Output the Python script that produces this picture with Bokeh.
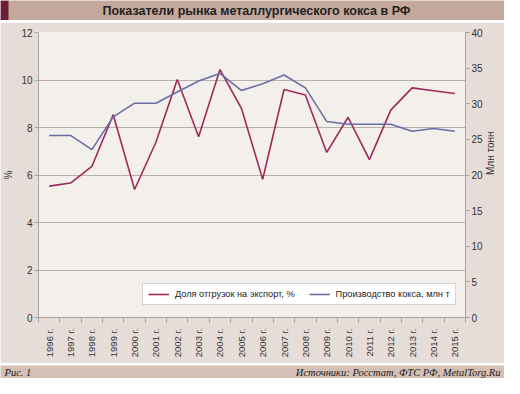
from math import pi
from bokeh.plotting import figure
from bokeh.models import (Range1d, LinearAxis, FixedTicker, Legend, LegendItem,
                          Label, BoxAnnotation)
from bokeh.layouts import column, row
from bokeh.embed import file_html
from bokeh.resources import INLINE

# ---- data ----
years = list(range(1996, 2016))
year_labels = [f"{y} г." for y in years]
export_share = [5.53, 5.66, 6.36, 8.54, 5.39, 7.38, 10.02, 7.61, 10.44, 8.82,
                5.82, 9.60, 9.37, 6.95, 8.43, 6.65, 8.73, 9.67, 9.55, 9.43]
coke_output = [25.55, 25.55, 23.57, 28.15, 30.08, 30.08, 31.65, 33.2, 34.25, 31.87,
               32.8, 34.03, 32.23, 27.52, 27.12, 27.12, 27.12, 26.13, 26.53, 26.13]
left_ticks = [0, 2, 4, 6, 8, 10, 12]
right_ticks = [0, 5, 10, 15, 20, 25, 30, 35, 40]
series_names = ["Доля отгрузок на экспорт, %", "Производство кокса, млн т"]
title_text = "Показатели рынка металлургического кокса в РФ"
fig_text = "Рис. 1"
source_text = "Источники: Росстат, ФТС РФ, MetalTorg.Ru"

RED = "#9e2a5c"
BLUE = "#6a6ea8"
AXIS = "#a8a4a0"
GRID = "#b6b1ac"
TXT = "#333333"
FONT = "Liberation Sans"
W = 504

# ---- header ----
hdr = figure(width=W, height=20, x_range=Range1d(0, W), y_range=Range1d(0, 20),
             x_axis_type=None, y_axis_type=None, output_backend="svg",
             toolbar_location=None, min_border=0, outline_line_color=None,
             background_fill_color="#c4a89c", border_fill_color="#c4a89c")
hdr.xgrid.visible = False
hdr.ygrid.visible = False
hdr.add_layout(BoxAnnotation(left=0, right=8, fill_color="#6b1f3b", fill_alpha=1,
                             line_color=None))
hdr.add_layout(Label(x=256, y=10, text=title_text, text_align="center",
                     text_baseline="middle", text_font=FONT, text_font_style="bold",
                     text_font_size="12.5px", text_color="#222222"))

# ---- main chart ----
p = figure(width=W, height=341, output_backend="svg", toolbar_location=None,
           x_range=Range1d(1995.5, 2015.5), y_range=Range1d(0, 12),
           min_border_left=35, min_border_right=36, min_border_top=10,
           min_border_bottom=46, background_fill_color="#f3efeb",
           border_fill_color="#e7ddd8", outline_line_color=None)
p.extra_y_ranges = {"prod": Range1d(0, 40)}

xa = p.xaxis[0]
xa.ticker = FixedTicker(ticks=years, minor_ticks=[y - 0.5 for y in years] + [2015.5])
xa.major_label_overrides = {y: lbl for y, lbl in zip(years, year_labels)}
xa.major_label_orientation = pi / 2
xa.major_tick_out = 0
xa.major_tick_in = 0
xa.minor_tick_out = 5
xa.minor_tick_in = 0
xa.minor_tick_line_color = AXIS
xa.axis_line_color = AXIS
xa.major_label_text_font = FONT
xa.major_label_text_font_size = "9.5px"
xa.major_label_text_color = TXT
xa.major_label_standoff = 6

ya = p.yaxis[0]
ya.ticker = FixedTicker(ticks=left_ticks)
ya.axis_label = "%"
ya.major_tick_out = 4
ya.major_tick_in = 0
ya.minor_tick_line_color = None
ya.axis_line_color = AXIS
ya.major_tick_line_color = AXIS
ya.major_label_text_font = FONT
ya.major_label_text_font_size = "10px"
ya.major_label_text_color = TXT
ya.major_label_standoff = 2
ya.axis_label_text_font = FONT
ya.axis_label_text_font_style = "normal"
ya.axis_label_text_font_size = "10px"
ya.axis_label_text_color = TXT
ya.axis_label_standoff = 4

ra = LinearAxis(y_range_name="prod", ticker=FixedTicker(ticks=right_ticks),
                axis_label="Млн тонн")
ra.major_tick_out = 4
ra.major_tick_in = 0
ra.minor_tick_line_color = None
ra.axis_line_color = AXIS
ra.major_tick_line_color = AXIS
ra.major_label_text_font = FONT
ra.major_label_text_font_size = "10px"
ra.major_label_text_color = TXT
ra.major_label_standoff = 2
ra.axis_label_text_font = FONT
ra.axis_label_text_font_style = "normal"
ra.axis_label_text_font_size = "10px"
ra.axis_label_text_color = TXT
ra.axis_label_standoff = 5
try:
    ra.axis_label_orientation = pi / 2
except Exception:
    pass
p.add_layout(ra, "right")

p.xgrid.visible = False
p.ygrid.ticker = FixedTicker(ticks=left_ticks)
p.ygrid.grid_line_color = GRID

r1 = p.line(years, export_share, line_color=RED, line_width=1.6)
r2 = p.line(years, coke_output, y_range_name="prod", line_color=BLUE, line_width=1.6)

legend = Legend(items=[LegendItem(label=series_names[0], renderers=[r1]),
                       LegendItem(label=series_names[1], renderers=[r2])],
                orientation="horizontal", location=(104, 12),
                label_text_font=FONT, label_text_font_size="9.2px",
                label_text_color="#222222", glyph_width=21, glyph_height=10,
                label_standoff=6, spacing=14, padding=5, margin=0,
                border_line_color="#a8a8a8", background_fill_color="white",
                background_fill_alpha=1)
p.add_layout(legend)

# ---- footer ----
ftr = figure(width=W, height=13, x_range=Range1d(0, W), y_range=Range1d(0, 13),
             x_axis_type=None, y_axis_type=None, output_backend="svg",
             toolbar_location=None, min_border=0, outline_line_color=None,
             background_fill_color="#d4c0b5", border_fill_color="#d4c0b5")
ftr.xgrid.visible = False
ftr.ygrid.visible = False
ftr.add_layout(Label(x=4, y=6.5, text=fig_text, text_align="left",
                     text_baseline="middle", text_font="Liberation Serif",
                     text_font_style="italic", text_font_size="10.5px",
                     text_color="#222222"))
ftr.add_layout(Label(x=500, y=6.5, text=source_text, text_align="right",
                     text_baseline="middle", text_font="Liberation Serif",
                     text_font_style="italic", text_font_size="10.5px",
                     text_color="#222222"))

layout = column(row(hdr), p, row(ftr), spacing=2)
open("out.html", "w").write(file_html(layout, INLINE))
